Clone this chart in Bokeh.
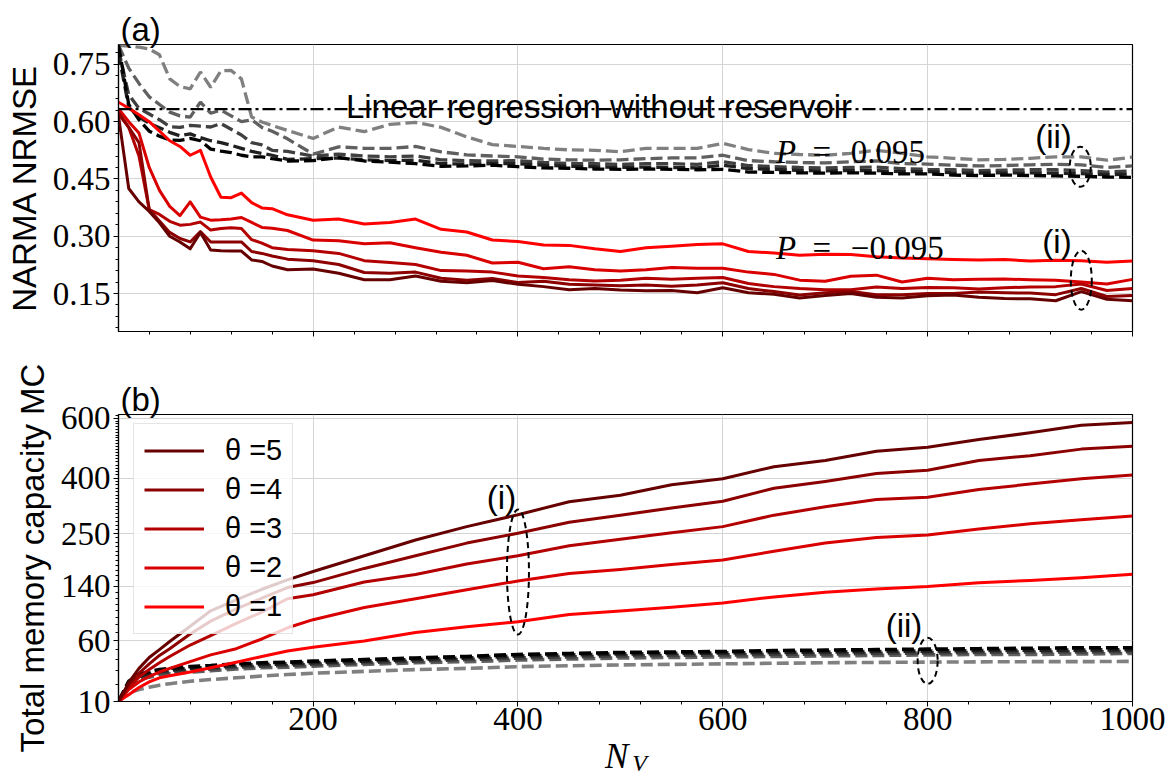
import math
from bokeh.plotting import figure
from bokeh.models import (Range1d, FixedTicker, CustomJSTickFormatter, Label, Legend,
                          LegendItem, Span, Div)
from bokeh.layouts import column
from bokeh.embed import file_html
from bokeh.resources import INLINE

# ---------------- data ----------------
x_nrmse = [10, 20, 30, 40, 50, 60, 70, 80, 90, 100, 110, 120, 130, 140, 150, 160, 175, 200,
           225, 250, 275, 300, 325, 350, 375, 400, 425, 450, 475, 500, 525, 550, 575, 600,
           625, 650, 675, 700, 725, 750, 775, 800, 825, 850, 875, 900, 925, 950, 975, 1000]

# P = -0.095 (solid, red)
nrmse_neg_t1 = [0.651, 0.635, 0.618, 0.600, 0.575, 0.550, 0.535, 0.512, 0.525, 0.455, 0.402, 0.401, 0.413, 0.388, 0.374, 0.372, 0.356, 0.342,
                0.345, 0.332, 0.336, 0.345, 0.318, 0.311, 0.290, 0.286, 0.277, 0.276, 0.267, 0.260, 0.270, 0.274, 0.278, 0.280,
                0.260, 0.256, 0.250, 0.253, 0.252, 0.246, 0.243, 0.241, 0.239, 0.238, 0.239, 0.235, 0.237, 0.236, 0.232, 0.235]
nrmse_neg_t2 = [0.634, 0.600, 0.570, 0.480, 0.420, 0.378, 0.354, 0.390, 0.350, 0.342, 0.343, 0.345, 0.349, 0.336, 0.323, 0.321, 0.315, 0.290,
                0.288, 0.280, 0.283, 0.270, 0.258, 0.250, 0.230, 0.232, 0.215, 0.220, 0.212, 0.209, 0.212, 0.218, 0.216, 0.216,
                0.206, 0.200, 0.185, 0.182, 0.195, 0.198, 0.180, 0.190, 0.186, 0.187, 0.188, 0.186, 0.185, 0.180, 0.175, 0.187]
nrmse_neg_t3 = [0.625, 0.585, 0.510, 0.370, 0.357, 0.339, 0.329, 0.331, 0.337, 0.316, 0.320, 0.322, 0.320, 0.291, 0.282, 0.270, 0.265, 0.262,
                0.255, 0.236, 0.231, 0.226, 0.210, 0.209, 0.206, 0.196, 0.192, 0.186, 0.183, 0.185, 0.190, 0.187, 0.190, 0.192,
                0.176, 0.168, 0.163, 0.160, 0.160, 0.167, 0.163, 0.166, 0.165, 0.162, 0.165, 0.167, 0.168, 0.175, 0.158, 0.163]
nrmse_neg_t4 = [0.620, 0.585, 0.545, 0.370, 0.340, 0.310, 0.294, 0.285, 0.312, 0.285, 0.285, 0.285, 0.285, 0.260, 0.255, 0.248, 0.240, 0.236,
                0.226, 0.205, 0.203, 0.206, 0.190, 0.185, 0.189, 0.179, 0.182, 0.174, 0.172, 0.170, 0.172, 0.169, 0.172, 0.178,
                0.163, 0.155, 0.146, 0.152, 0.155, 0.147, 0.147, 0.150, 0.150, 0.154, 0.152, 0.151, 0.147, 0.163, 0.142, 0.145]
nrmse_neg_t5 = [0.615, 0.425, 0.390, 0.365, 0.335, 0.300, 0.285, 0.267, 0.310, 0.264, 0.262, 0.261, 0.261, 0.238, 0.234, 0.222, 0.212, 0.214,
                0.203, 0.186, 0.186, 0.196, 0.182, 0.178, 0.184, 0.174, 0.168, 0.160, 0.163, 0.159, 0.157, 0.158, 0.152, 0.165,
                0.152, 0.148, 0.138, 0.145, 0.150, 0.140, 0.138, 0.144, 0.146, 0.140, 0.137, 0.136, 0.131, 0.155, 0.135, 0.131]

# P = 0.095 (dashed, grey -> black)
nrmse_pos_t1 = [0.800, 0.798, 0.795, 0.790, 0.775, 0.712, 0.692, 0.686, 0.730, 0.690, 0.733, 0.734, 0.712, 0.612, 0.599, 0.590, 0.577, 0.556,
                0.586, 0.574, 0.593, 0.598, 0.585, 0.560, 0.540, 0.535, 0.530, 0.526, 0.525, 0.521, 0.530, 0.530, 0.530, 0.543,
                0.527, 0.517, 0.514, 0.512, 0.517, 0.525, 0.517, 0.508, 0.504, 0.500, 0.501, 0.504, 0.508, 0.508, 0.499, 0.507]
nrmse_pos_t2 = [0.800, 0.740, 0.700, 0.665, 0.645, 0.625, 0.615, 0.612, 0.651, 0.622, 0.630, 0.615, 0.600, 0.605, 0.585, 0.575, 0.555, 0.515,
                0.534, 0.530, 0.530, 0.535, 0.521, 0.513, 0.510, 0.508, 0.502, 0.500, 0.499, 0.500, 0.503, 0.505, 0.505, 0.512,
                0.498, 0.495, 0.493, 0.492, 0.495, 0.497, 0.490, 0.489, 0.486, 0.484, 0.485, 0.487, 0.488, 0.487, 0.480, 0.484]
nrmse_pos_t3 = [0.790, 0.670, 0.635, 0.620, 0.605, 0.587, 0.585, 0.590, 0.588, 0.586, 0.595, 0.580, 0.565, 0.545, 0.539, 0.525, 0.522, 0.510,
                0.515, 0.510, 0.508, 0.510, 0.500, 0.498, 0.497, 0.498, 0.493, 0.490, 0.490, 0.488, 0.490, 0.490, 0.488, 0.495,
                0.485, 0.482, 0.480, 0.479, 0.480, 0.481, 0.477, 0.475, 0.474, 0.472, 0.473, 0.474, 0.474, 0.472, 0.468, 0.471]
nrmse_pos_t4 = [0.780, 0.638, 0.612, 0.596, 0.584, 0.572, 0.563, 0.568, 0.558, 0.550, 0.545, 0.538, 0.530, 0.522, 0.517, 0.512, 0.501, 0.503,
                0.505, 0.500, 0.498, 0.499, 0.490, 0.489, 0.490, 0.490, 0.486, 0.483, 0.482, 0.480, 0.481, 0.480, 0.479, 0.486,
                0.477, 0.475, 0.472, 0.471, 0.472, 0.472, 0.469, 0.469, 0.466, 0.465, 0.466, 0.466, 0.465, 0.464, 0.461, 0.463]
nrmse_pos_t5 = [0.800, 0.645, 0.605, 0.575, 0.562, 0.552, 0.551, 0.556, 0.550, 0.528, 0.523, 0.519, 0.512, 0.508, 0.508, 0.503, 0.497, 0.498,
                0.506, 0.497, 0.494, 0.490, 0.483, 0.484, 0.486, 0.482, 0.479, 0.478, 0.476, 0.475, 0.476, 0.475, 0.474, 0.475,
                0.468, 0.467, 0.466, 0.465, 0.466, 0.465, 0.463, 0.463, 0.460, 0.459, 0.460, 0.459, 0.458, 0.457, 0.455, 0.454]

linreg_nrmse = 0.633

x_mc = [10, 20, 30, 40, 50, 60, 80, 100, 125, 150, 175, 200, 250, 300, 350, 400, 450, 500, 550, 600,
        650, 700, 750, 800, 850, 900, 950, 1000]

mc_neg_t1 = [10, 13.5, 17.8, 21.5, 24.5, 26, 29, 32.5, 37.5, 43, 48.5, 52.5, 59.5, 70, 77.5, 84, 94.5, 99.8, 105.5, 112,
             122, 130, 135.5, 139.8, 146.5, 151, 156, 162.5]
mc_neg_t2 = [10, 16.5, 21.5, 25.5, 29, 32, 38, 44.6, 51, 62, 76, 87, 105, 119, 134, 150, 164, 172, 182, 191,
             210, 228, 241, 247, 261, 274, 284, 294]
mc_neg_t3 = [10, 18, 25, 31, 37, 43, 55, 66, 82, 98, 119, 125.5, 148, 162, 183, 200, 222, 237, 252, 267,
             296, 318, 338, 344, 366, 382, 398, 409]
mc_neg_t4 = [10, 20, 28, 36, 44, 51, 68, 85, 103, 120, 138, 147, 174, 200, 228, 251, 278, 296, 315, 333,
             370, 390, 414, 424, 455, 470, 492, 502]
mc_neg_t5 = [10, 21, 32, 42, 50, 59, 78, 100, 117, 135, 152, 168, 200, 235, 267, 297, 332, 350, 380, 398,
             435, 455, 485, 498, 525, 548, 575, 585]

mc_pos_t1 = [10, 14.5, 16.5, 18, 19.3, 20.3, 22, 23.2, 24.5, 25.8, 27, 28, 29.5, 31, 32, 33.5, 34.3, 35, 35.5, 36,
             36.5, 37, 37.3, 37.6, 37.8, 38, 38, 38.3]
mc_pos_t2 = [10, 19, 23, 25, 26.5, 27.5, 29, 30, 31.5, 32.5, 33, 34, 35.5, 37, 38, 39.5, 40.5, 41.5, 42, 42.5,
             43, 43.5, 44, 44.5, 45, 45, 45.5, 46]
mc_pos_t3 = [10, 20, 24.5, 26.5, 28, 29, 30.5, 31.5, 33, 34, 34.5, 35.5, 37, 38.5, 40, 41.5, 42.5, 43.5, 44, 44.5,
             45, 45.5, 46, 46.5, 47, 47.5, 47.5, 48]
mc_pos_t4 = [10, 21, 25.5, 28, 29.5, 30.5, 32, 33, 34.5, 35.5, 36, 37, 38.5, 40, 41.5, 43.5, 44.5, 45.5, 46, 46.5,
             47, 47.5, 48, 48.5, 49, 49.5, 49.5, 50]
mc_pos_t5 = [10, 22, 27, 29.5, 31, 32, 33.5, 34.5, 36, 37, 37.5, 38.5, 40, 41.5, 43, 45, 46, 47, 47.5, 48,
             49, 49.5, 50, 50.5, 51, 51.5, 52, 52]

thetas = [1, 2, 3, 4, 5]
red_colors = ["#ff0000", "#d90000", "#b30000", "#8c0000", "#660000"]
grey_colors = ["#808080", "#606060", "#404040", "#202020", "#000000"]

x_major = [200, 400, 600, 800, 1000]
nrmse_major = [0.15, 0.30, 0.45, 0.60, 0.75]
mc_major = [10, 60, 140, 250, 400, 600]

# ---------------- styling helpers ----------------
SANS = "Liberation Sans"
SERIF = "Liberation Serif"
FS = "33px"
W = 1170


def style_axes(p):
    p.outline_line_color = "black"
    p.outline_line_width = 1.2
    p.outline_line_alpha = 1.0
    p.background_fill_color = "white"
    p.border_fill_color = "white"
    for ax in p.axis:
        ax.axis_line_color = "black"
        ax.axis_line_width = 1.2
        ax.major_tick_out = 5
        ax.major_tick_in = 0
        ax.minor_tick_out = 3
        ax.minor_tick_in = 0
        ax.major_tick_line_color = "black"
        ax.minor_tick_line_color = "black"
        ax.major_label_text_font = SERIF
        ax.major_label_text_font_size = FS
        ax.major_label_text_color = "black"
        ax.major_label_standoff = 3
    for g in p.grid:
        g.grid_line_color = "#d4d4d4"
        g.grid_line_width = 1


def style_title(p, text):
    p.title.text = text
    p.title.text_font = SANS
    p.title.text_font_size = FS
    p.title.text_font_style = "normal"
    p.title.text_color = "black"
    p.title.align = "left"
    p.title.offset = 2
    p.title.standoff = -6


def lab(p, x, y, text, font=SANS, size=FS, style="normal", baseline="alphabetic", **kw):
    p.add_layout(Label(x=x, y=y, text=text, text_font=font, text_font_size=size,
                       text_font_style=style, text_color="black", text_baseline=baseline, **kw))


sqrt = math.sqrt

# ---------------- top panel ----------------
p1 = figure(width=W, height=358, x_range=Range1d(10, 1000), y_range=Range1d(0.0505, 0.802),
            output_backend="svg", toolbar_location=None,
            min_border_left=118, min_border_right=38, min_border_top=44, min_border_bottom=27)
style_axes(p1)
style_title(p1, "(a)")
p1.xaxis.ticker = FixedTicker(ticks=x_major, minor_ticks=[v for v in range(40, 1000, 40)])
p1.xaxis.major_label_text_font_size = "1px"
p1.xaxis.major_label_text_color = None
p1.xaxis.major_label_standoff = 0
p1.yaxis.ticker = FixedTicker(ticks=nrmse_major,
                              minor_ticks=[round(0.06 + 0.03 * i, 2) for i in range(25)])
p1.yaxis.formatter = CustomJSTickFormatter(code="return tick.toFixed(2);")
p1.yaxis.axis_label = "NARMA NRMSE"
p1.yaxis.axis_label_text_font = SANS
p1.yaxis.axis_label_text_font_size = FS
p1.yaxis.axis_label_text_font_style = "normal"
p1.yaxis.axis_label_text_color = "black"
p1.yaxis.axis_label_standoff = 7

neg_series = [nrmse_neg_t1, nrmse_neg_t2, nrmse_neg_t3, nrmse_neg_t4, nrmse_neg_t5]
pos_series = [nrmse_pos_t1, nrmse_pos_t2, nrmse_pos_t3, nrmse_pos_t4, nrmse_pos_t5]
for ys, c in zip(pos_series, grey_colors):
    p1.line(x_nrmse, ys, line_color=c, line_width=3.3, line_dash="12 5")
for ys, c in zip(neg_series, red_colors):
    p1.line(x_nrmse, ys, line_color=c, line_width=3, line_join="round")

p1.add_layout(Span(location=linreg_nrmse, dimension="width", line_color="black",
                   line_width=2.2, line_dash="13 4 3 4"))

lab(p1, 232, 0.6395, "Linear regression without reservoir")
lab(p1, 652, 0.521, "P", font=SERIF, style="italic")
lab(p1, 687.6, 0.521, "=", font=SERIF)
lab(p1, 725, 0.521, "0.095", font=SERIF)
lab(p1, 652, 0.268, "P", font=SERIF, style="italic")
lab(p1, 687.6, 0.268, "=", font=SERIF)
lab(p1, 725, 0.268, "\u22120.095", font=SERIF)
lab(p1, 905, 0.560, "(ii)", baseline="middle")
lab(p1, 912, 0.285, "(i)", baseline="middle")
p1.ellipse(x=[949], y=[0.482], width=21, height=40, width_units="screen", height_units="screen",
           fill_color=None, line_color="black", line_width=2, line_dash="6 4")
p1.ellipse(x=[950], y=[0.185], width=21, height=59, width_units="screen", height_units="screen",
           fill_color=None, line_color="black", line_width=2, line_dash="6 4")

# ---------------- bottom panel (square-root scaled y) ----------------
p2 = figure(width=W, height=405, x_range=p1.x_range, y_range=Range1d(sqrt(10), 24.79),
            output_backend="svg", toolbar_location=None,
            min_border_left=118, min_border_right=38, min_border_top=56, min_border_bottom=62)
style_axes(p2)
style_title(p2, "(b)")
p2.xaxis.ticker = FixedTicker(ticks=x_major, minor_ticks=[v for v in range(40, 1000, 40)])
p2.xaxis.major_label_standoff = 1
p2.yaxis.ticker = FixedTicker(ticks=[sqrt(v) for v in mc_major],
                              minor_ticks=[sqrt(v) for v in range(20, 620, 10)])
p2.yaxis.formatter = CustomJSTickFormatter(code="return Math.round(tick*tick).toString();")
p2.yaxis.axis_label = "Total memory capacity MC"
p2.yaxis.axis_label_text_font = SANS
p2.yaxis.axis_label_text_font_size = FS
p2.yaxis.axis_label_text_font_style = "normal"
p2.yaxis.axis_label_text_color = "black"
p2.yaxis.axis_label_standoff = 7

mc_neg = [mc_neg_t1, mc_neg_t2, mc_neg_t3, mc_neg_t4, mc_neg_t5]
mc_pos = [mc_pos_t1, mc_pos_t2, mc_pos_t3, mc_pos_t4, mc_pos_t5]
for ys, c in zip(mc_pos, grey_colors):
    p2.line(x_mc, [sqrt(v) for v in ys], line_color=c, line_width=3.6, line_dash="12 5")
red_renderers = {}
for t, ys, c in zip(thetas, mc_neg, red_colors):
    red_renderers[t] = p2.line(x_mc, [sqrt(v) for v in ys], line_color=c, line_width=3,
                               line_join="round")

legend = Legend(items=[LegendItem(label="\u03b8 =%d" % t, renderers=[red_renderers[t]])
                       for t in [5, 4, 3, 2, 1]],
                location=(15, 67), orientation="vertical")
legend.label_text_font = SANS
legend.label_text_font_size = "29px"
legend.label_text_color = "black"
legend.glyph_width = 60
legend.glyph_height = 33
legend.label_height = 33
legend.label_standoff = 21
legend.spacing = 6
legend.padding = 10
legend.margin = 0
legend.border_line_color = "#cccccc"
legend.border_line_width = 1.2
legend.background_fill_color = "white"
legend.background_fill_alpha = 0.8
p2.add_layout(legend)

p2.ellipse(x=[400], y=[sqrt(167)], width=22, height=125, width_units="screen", height_units="screen",
           fill_color=None, line_color="black", line_width=2, line_dash="6 4")
p2.ellipse(x=[800], y=[sqrt(38.8)], width=20, height=46, width_units="screen", height_units="screen",
           fill_color=None, line_color="black", line_width=2, line_dash="6 4")
lab(p2, 369.6, 18.57, "(i)", baseline="middle")
lab(p2, 759, 8.86, "(ii)", baseline="middle")

# ---------------- x-axis label (N_V) ----------------
xlabel_html = ('<div style="position:relative; left:605px; top:-24px; width:90px; white-space:nowrap; '
               'font-family:\'Liberation Serif\'; font-style:italic; font-size:35px; line-height:35px; '
               'color:black;">N<span style="font-size:24px; position:relative; top:3px; left:4px;">V</span></div>')
xlabel = Div(text=xlabel_html, width=W, height=15, margin=(0, 0, 0, 0),
             styles={"overflow": "visible"})

layout = column(p1, p2, xlabel, spacing=0)
open("out.html", "w").write(file_html(layout, INLINE))
